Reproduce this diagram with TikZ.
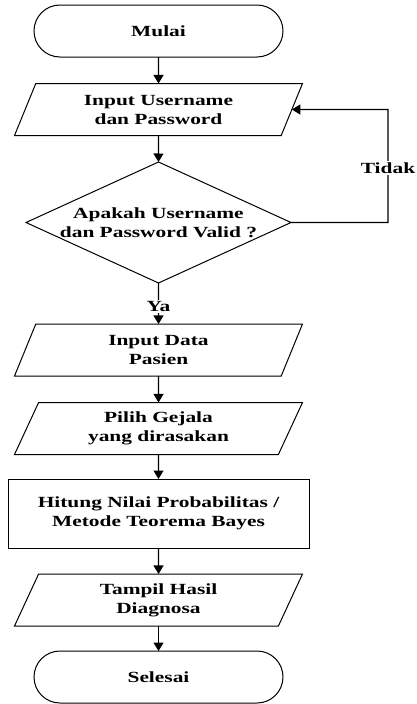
\documentclass[tikz,border=0pt]{standalone}
\usepackage{fontspec}
\setmainfont{Liberation Serif}[FakeStretch=1.38]
\usetikzlibrary{shapes.geometric,shapes.misc,arrows.meta}
\begin{document}
\begin{tikzpicture}[x=1pt,y=-1pt,
  every node/.style={font=\fontsize{15.5}{19}\selectfont\bfseries, align=center, inner sep=0pt, outer sep=0pt},
  term/.style={rounded rectangle, draw, line width=1pt, minimum width=249pt, minimum height=52pt},
  io/.style={trapezium, trapezium left angle=54, trapezium right angle=126, trapezium stretches body=true, draw, line width=1pt, minimum width=288pt, minimum height=52pt},
  proc/.style={rectangle, draw, line width=1pt, minimum width=301pt, minimum height=69pt},
  dec/.style={diamond, draw, line width=1pt, minimum width=265pt, minimum height=121pt, aspect=2.19},
  arr/.style={line width=1.1pt, -{Triangle[width=10pt,length=8.5pt]}},
  lbl/.style={fill=white, inner sep=1.5pt}
]
\useasboundingbox (0,0) rectangle (417,704);
\node[term] (start) at (158.5,31) {Mulai};
\node[io] (p1) at (158.5,109.5) {Input Username\\dan Password};
\node[dec] (d) at (158.5,222.5) {};
\node (dt) at (158.5,222.5) {Apakah Username\\dan Password Valid ?};
\node[io] (p2) at (158.5,350) {Input Data\\Pasien};
\node[io] (p3) at (158.5,428.5) {Pilih Gejala\\yang dirasakan};
\node[proc] (r) at (158.5,513.5) {Hitung Nilai Probabilitas /\\Metode Teorema Bayes};
\node[io] (p4) at (158.5,600) {Tampil Hasil\\Diagnosa};
\node[term] (end) at (158.5,677) {Selesai};
\coordinate (c1) at (388,222.5);
\coordinate (c2) at (388,109.5);

\draw[arr] (start) -- (p1);
\draw[arr] (p1) -- (d);
\draw[arr] (d) -- node[lbl, pos=0.57]{Ya} (p2);
\draw[arr] (p2) -- (p3);
\draw[arr] (p3) -- (r);
\draw[arr] (r) -- (p4);
\draw[arr] (p4) -- (end);
\draw[arr] (d.east) -- (c1) -- node[lbl, pos=0.48]{Tidak} (c2) -- (p1.east);
\end{tikzpicture}
\end{document}
